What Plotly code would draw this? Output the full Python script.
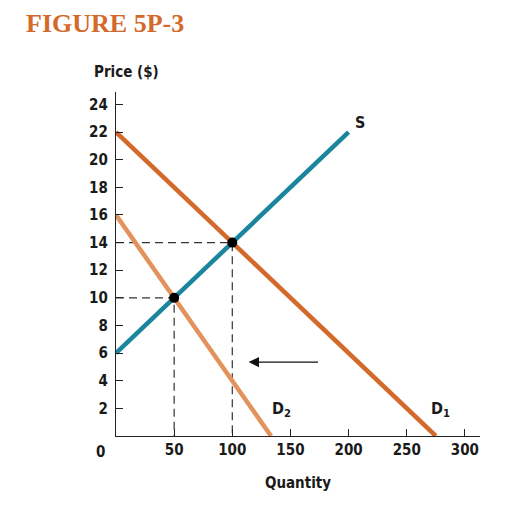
import plotly.graph_objects as go

# Angebot und Nachfrage
supply_q = [0, 200]
supply_p = [6, 22]
demand1_q = [0, 275]
demand1_p = [22, 0]
demand2_q = [0, 133.3]
demand2_p = [16, 0]

eq_q = [50, 100]
eq_p = [10, 14]

x_ticks = [50, 100, 150, 200, 250, 300]
y_ticks = [2, 4, 6, 8, 10, 12, 14, 16, 18, 20, 22, 24]

FONT = "DejaVu Sans Condensed, Liberation Sans Narrow, Arial Narrow, sans-serif"
TEXT = "#1a1a1a"
TEAL = "#1b859e"
ORANGE = "#d3692a"
LIGHT_ORANGE = "#e4925c"
DASH = "#333333"

fig = go.Figure()

# Hilfslinien (gestrichelt) zu den Gleichgewichtspunkten
for q, p in zip(eq_q, eq_p):
    fig.add_trace(go.Scatter(x=[0, q, q], y=[p, p, 0], mode="lines",
                             line=dict(color=DASH, width=1.2, dash="8px,5px"),
                             hoverinfo="skip", showlegend=False))

fig.add_trace(go.Scatter(x=demand2_q, y=demand2_p, mode="lines",
                         line=dict(color=LIGHT_ORANGE, width=4.5), name="D2", showlegend=False))
fig.add_trace(go.Scatter(x=demand1_q, y=demand1_p, mode="lines",
                         line=dict(color=ORANGE, width=4.5), name="D1", showlegend=False))
fig.add_trace(go.Scatter(x=supply_q, y=supply_p, mode="lines",
                         line=dict(color=TEAL, width=4.5), name="S", showlegend=False))

fig.add_trace(go.Scatter(x=eq_q, y=eq_p, mode="markers",
                         marker=dict(color="black", size=10), showlegend=False))

# Beschriftungen der Kurven
labels = [("<b>S</b>", 210, 22.7), ("<b>D<sub>2</sub></b>", 142, 1.9), ("<b>D<sub>1</sub></b>", 279, 1.9)]
for text, q, p in labels:
    fig.add_annotation(x=q, y=p, text=text, showarrow=False,
                       font=dict(family=FONT, size=16, color=TEXT))

# Pfeil: Verschiebung der Nachfrage
fig.add_annotation(x=114, y=5.35, ax=175, ay=5.35, xref="x", yref="y", axref="x", ayref="y",
                   text="", showarrow=True, arrowhead=2, arrowsize=1.6, arrowwidth=1.3,
                   arrowcolor="#111111")

fig.add_annotation(x=0, y=0, xref="x", yref="y", text="<b>0</b>", showarrow=False,
                   xshift=-16, yshift=-16, font=dict(family=FONT, size=15, color=TEXT))

fig.add_annotation(x=-0.065, y=1.027, xref="paper", yref="paper", xanchor="left", yanchor="bottom",
                   text="<b>Price ($)</b>", showarrow=False,
                   font=dict(family=FONT, size=15, color=TEXT))

fig.update_layout(
    width=532, height=521,
    margin=dict(l=108, r=60, t=84, b=93),
    paper_bgcolor="white", plot_bgcolor="white",
    title=dict(text="<b>FIGURE 5P-3</b>", x=0.034, xanchor="left", y=0.971, yanchor="middle",
               font=dict(family="Liberation Serif, DejaVu Serif, serif", size=26, color=ORANGE)),
    xaxis=dict(range=[0, 313], tickvals=x_ticks, ticks="inside", ticklen=7, tickwidth=1,
               tickcolor="#222", showline=True, linecolor="#222", linewidth=1.3,
               showgrid=False, zeroline=False,
               tickfont=dict(family=FONT, size=15, color=TEXT, weight="bold"),
               title=dict(text="<b>Quantity</b>", standoff=19,
                          font=dict(family=FONT, size=15, color=TEXT))),
    yaxis=dict(range=[0, 24.9], tickvals=y_ticks, ticks="inside", ticklen=7, tickwidth=1,
               tickcolor="#222", showline=True, linecolor="#222", linewidth=1.3,
               showgrid=False, zeroline=False, ticklabelstandoff=4,
               tickfont=dict(family=FONT, size=15, color=TEXT, weight="bold")),
)

fig.write_html("out.html")
